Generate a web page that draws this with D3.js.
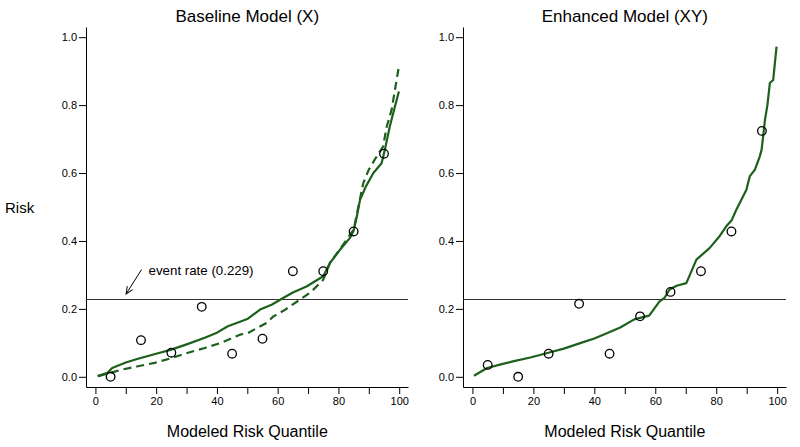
<!DOCTYPE html>
<html>
<head>
<meta charset="utf-8">
<script src="https://cdn.jsdelivr.net/npm/d3@7"></script>
<style>
  html, body { margin: 0; padding: 0; background: #fff; }
  svg { display: block; font-family: "Liberation Sans", Arial, sans-serif; }
</style>
</head>
<body>
<svg id="chart" width="800" height="447"></svg>
<script>
// ---- Data ----
const eventRate = 0.229;
const yTicks = [0, 0.2, 0.4, 0.6, 0.8, 1.0];
const xTicks = [0, 10, 20, 30, 40, 50, 60, 70, 80, 90, 100];
const xTickLabels = [0, 20, 40, 60, 80, 100];
const binQuantiles = [5, 15, 25, 35, 45, 55, 65, 75, 85, 95];

// Baseline model (X): observed risk per decile
const baselineObserved = [0.0, 0.108, 0.071, 0.206, 0.068, 0.112, 0.311, 0.311, 0.428, 0.657];
// Baseline solid curve
const baselineSolidQ = [0.7, 4, 5.5, 10, 14, 20, 25, 30.5, 36, 40, 43.6, 47.6, 50.2, 54.2, 58, 61.8, 65, 69.5, 75, 77.2, 80.5, 83.8, 85, 86, 87.1, 89, 91.5, 94.2, 95.3, 96.9, 98.6, 99.9];
const baselineSolidV = [0.002, 0.012, 0.026, 0.042, 0.053, 0.068, 0.08, 0.097, 0.115, 0.13, 0.149, 0.162, 0.171, 0.198, 0.212, 0.232, 0.248, 0.266, 0.296, 0.335, 0.374, 0.409, 0.43, 0.47, 0.521, 0.56, 0.6, 0.629, 0.669, 0.737, 0.796, 0.84];
// Baseline dashed curve
const baselineDashQ = [1, 5, 8.6, 14, 19.5, 25, 30.5, 36, 41.4, 47.6, 50.2, 56.4, 58.6, 62, 67.3, 71, 75, 77.2, 80, 85, 88.2, 90, 92.6, 94.7, 95.9, 97.5, 98.6, 99.9];
const baselineDashV = [0.002, 0.012, 0.021, 0.031, 0.041, 0.055, 0.071, 0.085, 0.1, 0.124, 0.129, 0.159, 0.178, 0.195, 0.227, 0.25, 0.286, 0.335, 0.37, 0.433, 0.571, 0.61, 0.649, 0.678, 0.737, 0.786, 0.845, 0.914];

// Enhanced model (XY)
const enhancedObserved = [0.035, 0.0, 0.068, 0.215, 0.068, 0.178, 0.25, 0.311, 0.428, 0.724];
const enhancedQ = [0.5, 4.8, 9, 13.6, 19, 24.6, 30, 35.6, 40, 44.3, 48.5, 53.1, 57, 58, 61.4, 63, 64.7, 67, 70.2, 73.5, 77.8, 81.1, 83.3, 85, 86.6, 88.3, 89.9, 91, 92.7, 94.3, 94.9, 95.4, 96, 96.8, 97.6, 98.7, 99.8];
const enhancedV = [0.003, 0.026, 0.036, 0.046, 0.057, 0.07, 0.083, 0.1, 0.113, 0.129, 0.145, 0.169, 0.178, 0.18, 0.222, 0.232, 0.257, 0.268, 0.276, 0.345, 0.379, 0.414, 0.443, 0.46, 0.492, 0.522, 0.551, 0.59, 0.61, 0.649, 0.669, 0.708, 0.757, 0.8, 0.865, 0.874, 0.972];

const panelTitles = ["Baseline Model (X)", "Enhanced Model (XY)"];
const xTitle = "Modeled Risk Quantile";
const yTitle = "Risk";
const annotationText = "event rate (0.229)";

// ---- Drawing ----
const svg = d3.select("#chart");
const green = "#1c601c";

const panels = [
  { left: 86, right: 408, title: panelTitles[0], observed: baselineObserved,
    lines: [ { q: baselineSolidQ, v: baselineSolidV, dash: null },
             { q: baselineDashQ, v: baselineDashV, dash: "8,5" } ], annotate: true },
  { left: 463, right: 786, title: panelTitles[1], observed: enhancedObserved,
    lines: [ { q: enhancedQ, v: enhancedV, dash: null } ], annotate: false }
];

const plotTop = 27, plotBottom = 387;
const y = d3.scaleLinear().domain([-0.03, 1.03]).range([plotBottom, plotTop]);

svg.append("defs").append("marker")
  .attr("id", "arrow").attr("viewBox", "0 0 10 10")
  .attr("refX", 9).attr("refY", 5).attr("markerWidth", 8).attr("markerHeight", 8)
  .attr("orient", "auto-start-reverse").attr("markerUnits", "userSpaceOnUse")
  .append("path").attr("d", "M0,1 L9,5 L0,9").attr("fill", "none").attr("stroke", "#000").attr("stroke-width", 1.2);

panels.forEach((p) => {
  const x = d3.scaleLinear().domain([-3.1, 102.9]).range([p.left, p.right]);
  const g = svg.append("g");

  // y axis
  const yAxis = g.append("g").attr("transform", `translate(${p.left},0)`)
    .call(d3.axisLeft(y).tickValues(yTicks).tickFormat(d3.format(".1f")).tickSize(7).tickPadding(2).tickSizeOuter(0));
  yAxis.select(".domain").attr("stroke", "#000");
  yAxis.selectAll("text").attr("font-size", 11).attr("fill", "#000").attr("font-family", "Liberation Sans, Arial, sans-serif");

  // x axis
  const xAxis = g.append("g").attr("transform", `translate(0,${plotBottom})`)
    .call(d3.axisBottom(x).tickValues(xTicks).tickFormat(d => xTickLabels.includes(d) ? d : "").tickSize(7).tickPadding(3).tickSizeOuter(0));
  xAxis.select(".domain").attr("stroke", "#000");
  xAxis.selectAll("text").attr("font-size", 11).attr("fill", "#000").attr("font-family", "Liberation Sans, Arial, sans-serif");

  // event rate line
  g.append("line").attr("x1", p.left).attr("x2", p.right)
    .attr("y1", y(eventRate)).attr("y2", y(eventRate))
    .attr("stroke", "#333").attr("stroke-width", 1)
    .attr("shape-rendering", "crispEdges");

  // curves
  const line = d3.line().x(d => x(d[0])).y(d => y(d[1]));
  p.lines.forEach(l => {
    const pts = l.q.map((q, i) => [q, l.v[i]]);
    g.append("path").datum(pts).attr("d", line)
      .attr("fill", "none").attr("stroke", green).attr("stroke-width", 2.2)
      .attr("stroke-linejoin", "round")
      .attr("stroke-dasharray", l.dash);
  });

  // observed points
  g.selectAll("circle.obs").data(p.observed).enter().append("circle")
    .attr("class", "obs")
    .attr("cx", (d, i) => x(binQuantiles[i])).attr("cy", d => y(d))
    .attr("r", 4.3).attr("fill", "none").attr("stroke", "#000").attr("stroke-width", 1.3);

  // titles
  const cx = x(50);
  g.append("text").attr("x", cx).attr("y", 22).attr("text-anchor", "middle")
    .attr("font-size", 17).attr("fill", "#000").text(p.title);
  g.append("text").attr("x", cx).attr("y", 437).attr("text-anchor", "middle")
    .attr("font-size", 16).attr("fill", "#000").text(xTitle);

  if (p.annotate) {
    g.append("line")
      .attr("x1", x(15.2)).attr("y1", y(0.316))
      .attr("x2", x(10.1)).attr("y2", y(0.244))
      .attr("stroke", "#000").attr("stroke-width", 1)
      .attr("marker-end", "url(#arrow)");
    g.append("text").attr("x", x(17.5)).attr("y", y(0.3))
      .attr("font-size", 13.3).attr("fill", "#000").text(annotationText);
  }
});

svg.append("text").attr("x", 5).attr("y", 213).attr("font-size", 15).attr("fill", "#000").text(yTitle);
</script>
</body>
</html>
